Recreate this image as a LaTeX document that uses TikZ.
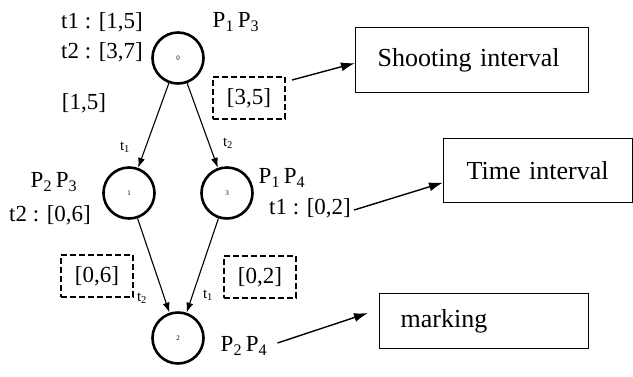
\documentclass[tikz,border=0pt]{standalone}
\usepackage{fontspec}
\setmainfont{Liberation Serif}
\usetikzlibrary{arrows.meta}
\usetikzlibrary{calc}

\begin{document}
\begin{tikzpicture}[x=1pt,y=-1pt,inner sep=0pt,
  state/.style={draw,circle,line width=2.6pt,minimum size=51pt,font=\fontsize{7}{8}\selectfont},
  lab/.style={font=\fontsize{23}{25}\selectfont},
  tlab/.style={font=\fontsize{15}{16}\selectfont},
  dbox/.style={draw,dash pattern=on 6pt off 3pt,line width=1.5pt,minimum width=72pt,minimum height=42pt,font=\fontsize{23}{25}\selectfont},
  note/.style={draw,line width=1.2pt,anchor=north west,align=left,font=\fontsize{26}{28}\selectfont},
  arc/.style={-{Latex[length=10pt,width=7pt]},line width=1.1pt},
  ptr/.style={-{Latex[length=14pt,width=9pt]},line width=1.4pt}]
\useasboundingbox (0,0) rectangle (633,376);

\node[state] (m0) at (178,58) {0};
\node[state] (m1) at (129,193) {1};
\node[state] (m3) at (227,193) {3};
\node[state] (m2) at (178,338) {2};

\node[lab] (l0a) at (102,22) {t1 : [1,5]};
\node[lab] (l0b) at (102,52) {t2 : [3,7]};
\node[lab] (p13) at (236,22) {P\textsubscript{1}\,P\textsubscript{3}};
\node[lab] (i15) at (84,103) {[1,5]};
\node[dbox] (d35) at (249,98) {[3,5]};
\node[tlab] (t1a) at (125,147) {t\textsubscript{1}};
\node[tlab] (t2a) at (228,143) {t\textsubscript{2}};

\node[lab] (p23) at (54,182) {P\textsubscript{2}\,P\textsubscript{3}};
\node[lab] (l1) at (50,215) {t2 : [0,6]};
\node[lab] (p14) at (282,178) {P\textsubscript{1}\,P\textsubscript{4}};
\node[lab] (l3) at (310,208) {t1 : [0,2]};

\node[dbox] (d06) at (97,276) {[0,6]};
\node[dbox] (d02) at (260,277) {[0,2]};
\node[tlab] (t2b) at (142,298) {t\textsubscript{2}};
\node[tlab] (t1b) at (208,295) {t\textsubscript{1}};
\node[lab] (p24) at (244,346) {P\textsubscript{2}\,P\textsubscript{4}};

\node[note,inner xsep=22pt,text width=189pt,minimum height=65pt] (shoot) at (355,27) {Shooting interval};
\node[note,inner xsep=23pt,text width=143pt,minimum height=64pt] (time) at (443,138) {Time interval};
\node[note,inner xsep=21pt,text width=167pt,minimum height=55pt] (mark) at (379,293) {marking};

\draw[arc] (m0) -- (m1);
\draw[arc] (m0) -- (m3);
\draw[arc] (m1) -- (m2);
\draw[arc] (m3) -- (m2);

\coordinate (s35) at (292,80);
\coordinate (e24) at (368,313);
\draw[ptr] (s35) -- ($(shoot.west)+(0,3)$);
\draw[ptr] ($(l3.east)+(3,2)$) -- ($(time.west)+(0,12)$);
\draw[ptr] ($(p24.east)+(10,-3)$) -- (e24);
\end{tikzpicture}
\end{document}
